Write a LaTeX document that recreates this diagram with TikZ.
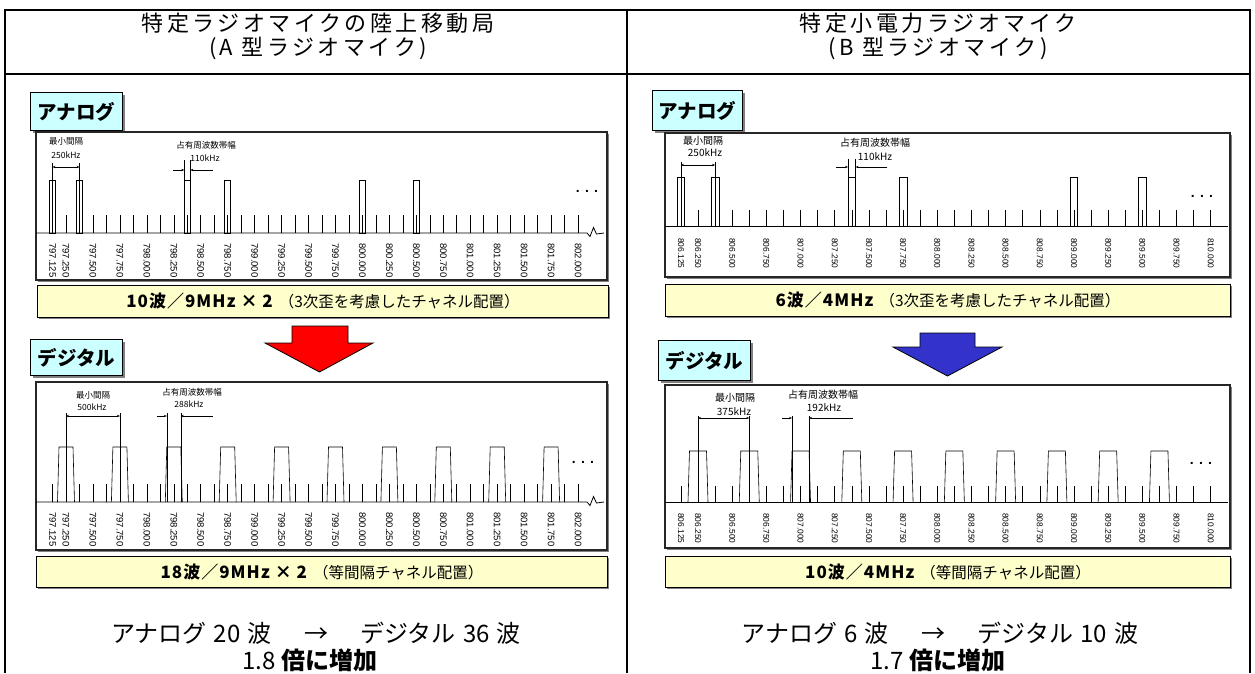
\documentclass[tikz,border=0pt]{standalone}
\usepackage{fontspec}
\setmainfont{Noto Sans CJK JP}
\newfontfamily\arl{Liberation Sans}
\usetikzlibrary{arrows.meta}
\definecolor{lyellow}{HTML}{FFFFCC}
\definecolor{lcyan}{HTML}{CCFFFF}
\definecolor{arrred}{HTML}{FF0000}
\definecolor{arrblue}{HTML}{3333CC}
\definecolor{shadowc}{HTML}{808080}
\tikzset{
  tbl/.style={line width=1.6pt},
  chartbox/.style={draw=black!85, line width=1.1pt, fill=white},
  shadowbox/.style={fill=shadowc, draw=none},
  yellowbox/.style={draw=black, line width=1pt, fill=lyellow, inner sep=0pt},
  tagbox/.style={draw=black, line width=1.2pt, fill=lcyan, inner sep=0pt, minimum width=92pt, minimum height=38pt, anchor=north west, font=\fontsize{19.5}{20}\selectfont\bfseries},
  ticks/.style={line width=0.6pt},
  chan/.style={line width=0.6pt},
  baseln/.style={line width=0.8pt},
  dimline/.style={line width=0.5pt},
  dimarrow/.style={line width=0.5pt, -{Stealth[length=3pt,width=2.4pt]}},
  dimarrows/.style={line width=0.5pt, {Stealth[length=3pt,width=2.4pt]}-{Stealth[length=3pt,width=2.4pt]}},
  freqL/.style={rotate=-90, anchor=west, inner sep=0pt, font=\arl\fontsize{9.5}{10}\selectfont},
  freqR/.style={rotate=-90, anchor=west, inner sep=0pt, font=\arl\fontsize{8.4}{9}\selectfont},
  smallL/.style={inner sep=0pt, font=\fontsize{8.5}{9}\selectfont},
  smallR/.style={inner sep=0pt, font=\fontsize{10}{11}\selectfont},
  dots/.style={inner sep=0pt, font=\arl\fontsize{14}{14}\selectfont\bfseries},
  head/.style={inner sep=0pt, font=\fontsize{22}{24}\selectfont\addfontfeatures{LetterSpace=16}},
  foot/.style={inner sep=0pt, font=\fontsize{24}{26}\selectfont},
  bigarrow/.style={draw=black, line width=0.8pt, line join=miter},
}
\newcommand{\sumtext}[2]{{\fontsize{17}{18}\selectfont\bfseries\addfontfeatures{LetterSpace=6}#1}\hspace{6pt}{\fontsize{15.5}{18}\selectfont #2}}
\newcommand{\gap}{\hspace{0.3em}}
\newcommand{\wgap}{\hspace{1.35em}}
\begin{document}
\begin{tikzpicture}[x=1pt,y=-1pt]
\useasboundingbox (0,0) rectangle (1255,673);
\fill[white] (0,0) rectangle (1255,673);

% ---------- table ----------
\draw[tbl] (5,673) -- (5,10) -- (1250,10) -- (1250,673);
\draw[tbl] (627,10) -- (627,673);
\draw[tbl] (5,74) -- (1250,74);
\node[head] (hL1) at (318,23) {特定ラジオマイクの陸上移動局};
\node[head] (hL2) at (318,48) {(A 型ラジオマイク)};
\node[head] (hR1) at (938,23) {特定小電力ラジオマイク};
\node[head] (hR2) at (938,48) {(B 型ラジオマイク)};

% ========== LEFT ANALOG ==========
\fill[shadowbox] (33,95) rectangle (125,133);
\node[tagbox] (tagLA) at (30,92) {アナログ};
\fill[shadowbox] (38,134) rectangle (609,282);
\draw[chartbox] (36,132) rectangle (607,280);
\foreach \i in {0,...,39} {\draw[ticks] ({52.525+13.475*\i},233) -- ({52.525+13.475*\i},215);}
\foreach \i in {0,2,10,13,23,27} {\draw[chan] ({52.525+13.475*\i-3},233) rectangle ({52.525+13.475*\i+3},180);}
\draw[baseln] (36,233) -- (587,233) -- (590,236.5) -- (593.5,227.5) -- (596.5,234) -- (604,233);
\foreach \i/\t in {0/797.125,1/797.250,3/797.500,5/797.750,7/798.000,9/798.250,11/798.500,13/798.750,15/799.000,17/799.250,19/799.500,21/799.750,23/800.000,25/800.250,27/800.500,29/800.750,31/801.000,33/801.250,35/801.500,37/801.750,39/802.000}
  {\node[freqL] (fLA\i) at ({52.525+13.475*\i},243) {\t};}
\draw[dimline] (52.5,233) -- (52.5,163);
\draw[dimline] (79.5,233) -- (79.5,163);
\draw[dimarrows] (52.5,167) -- (79.5,167);
\node[smallL] (mLA) at (66,141) {最小間隔};
\node[smallL] (kLA) at (66,155) {250kHz};
\draw[dimline] (184.3,180) -- (184.3,160);
\draw[dimline] (190.3,180) -- (190.3,160);
\coordinate (bLA1) at (173,170);
\coordinate (bLA2) at (213,170);
\draw[dimarrow] (bLA1) -- (184.3,170);
\draw[dimarrow] (bLA2) -- (190.3,170);
\node[smallL] (oLA) at (206,145) {占有周波数帯幅};
\node[smallL] (wLA) at (205,158) {110kHz};
\node[dots] (dLA) at (587,191) {. . .};
\fill[shadowbox] (39,287) rectangle (610,319);
\node[yellowbox, minimum width=571pt, minimum height=32pt, anchor=north west] (sLA) at (37,285) {\sumtext{10波／9MHz × 2}{（3次歪を考慮したチャネル配置）}};

% ========== LEFT DIGITAL ==========
\fill[shadowbox] (33,342) rectangle (125,378);
\node[tagbox, minimum height=36pt] (tagLD) at (30,339) {デジタル};
\fill[shadowbox] (38,384) rectangle (609,552);
\draw[chartbox] (36,382) rectangle (607,550);
\foreach \i in {0,...,39} {\draw[ticks] ({52.525+13.475*\i},502) -- ({52.525+13.475*\i},484);}
\foreach \k in {0,...,9} {\pgfmathsetmacro\cx{52.525+13.475*(1+4*\k)}
  \draw[chan] ({\cx-8.5},502) -- ({\cx-7},447) -- ({\cx+7},447) -- ({\cx+8.5},502);}
\draw[baseln] (36,502) -- (587,502) -- (590,505.5) -- (593.5,496.5) -- (596.5,503) -- (604,502);
\foreach \i/\t in {0/797.125,1/797.250,3/797.500,5/797.750,7/798.000,9/798.250,11/798.500,13/798.750,15/799.000,17/799.250,19/799.500,21/799.750,23/800.000,25/800.250,27/800.500,29/800.750,31/801.000,33/801.250,35/801.500,37/801.750,39/802.000}
  {\node[freqL] (fLD\i) at ({52.525+13.475*\i},512) {\t};}
\draw[dimline] (66,502) -- (66,413);
\draw[dimline] (119.9,502) -- (119.9,413);
\draw[dimarrows] (66,416) -- (119.9,416);
\node[smallL] (mLD) at (93,395) {最小間隔};
\node[smallL] (kLD) at (92,407) {500kHz};
\draw[dimline] (166.8,502) -- (166.8,413);
\draw[dimline] (180.8,502) -- (180.8,413);
\coordinate (bLD1) at (157,416);
\coordinate (bLD2) at (213,416);
\draw[dimarrow] (bLD1) -- (166.8,416);
\draw[dimarrow] (bLD2) -- (180.8,416);
\node[smallL] (oLD) at (192,392) {占有周波数帯幅};
\node[smallL] (wLD) at (189,404) {288kHz};
\node[dots] (dLD) at (583,462) {. . .};
\fill[shadowbox] (38,558) rectangle (609,589);
\node[yellowbox, minimum width=571pt, minimum height=31pt, anchor=north west] (sLD) at (36,556) {\sumtext{18波／9MHz × 2}{（等間隔チャネル配置）}};

% big red arrow
\draw[bigarrow, fill=arrred] (292,326) -- (348,326) -- (348,343) -- (373,343) -- (319.5,372) -- (265,343) -- (292,343) -- cycle;

% ========== RIGHT ANALOG ==========
\fill[shadowbox] (655,93) rectangle (745,133);
\node[tagbox, minimum width=90pt, minimum height=40pt] (tagRA) at (652,90) {アナログ};
\fill[shadowbox] (667,135) rectangle (1232,279);
\draw[chartbox] (665,133) rectangle (1230,277);
\foreach \i in {0,...,31} {\draw[ticks] ({680.91+17.09*\i},226) -- ({680.91+17.09*\i},210);}
\foreach \i in {0,2,10,13,23,27} {\draw[chan] ({680.91+17.09*\i-3.8},226) rectangle ({680.91+17.09*\i+3.8},177);}
\draw[baseln] (665,226) -- (1228,226);
\foreach \i/\t in {0/806.125,1/806.250,3/806.500,5/806.750,7/807.000,9/807.250,11/807.500,13/807.750,15/808.000,17/808.250,19/808.500,21/808.750,23/809.000,25/809.250,27/809.500,29/809.750,31/810.000}
  {\node[freqR] (fRA\i) at ({680.91+17.09*\i},238) {\t};}
\draw[dimline] (680.9,226) -- (680.9,162);
\draw[dimline] (715.1,226) -- (715.1,162);
\draw[dimarrows] (680.9,165) -- (715.1,165);
\node[smallR] (mRA) at (703,141) {最小間隔};
\node[smallR] (kRA) at (705,153) {250kHz};
\draw[dimline] (848,177) -- (848,159);
\draw[dimline] (855.6,177) -- (855.6,159);
\coordinate (bRA1) at (836,167);
\coordinate (bRA2) at (887,167);
\draw[dimarrow] (bRA1) -- (848,167);
\draw[dimarrow] (bRA2) -- (855.6,167);
\node[smallR] (oRA) at (875,143) {占有周波数帯幅};
\node[smallR] (wRA) at (875,157) {110kHz};
\node[dots] (dRA) at (1202,196) {. . .};
\fill[shadowbox] (667,286) rectangle (1232,318);
\node[yellowbox, minimum width=565pt, minimum height=32pt, anchor=north west] (sRA) at (665,284) {\sumtext{6波／4MHz}{（3次歪を考慮したチャネル配置）}};

% ========== RIGHT DIGITAL ==========
\fill[shadowbox] (661,343) rectangle (753,383);
\node[tagbox, minimum height=40pt] (tagRD) at (658,340) {デジタル};
\fill[shadowbox] (667,387) rectangle (1232,550);
\draw[chartbox] (665,385) rectangle (1230,548);
\foreach \i in {0,...,31} {\draw[ticks] ({680.91+17.09*\i},502) -- ({680.91+17.09*\i},486);}
\foreach \k in {0,...,9} {\pgfmathsetmacro\cx{680.91+17.09*(1+3*\k)}
  \draw[chan] ({\cx-10},502) -- ({\cx-8.5},451) -- ({\cx+8.5},451) -- ({\cx+10},502);}
\draw[baseln] (665,502) -- (1228,502);
\foreach \i/\t in {0/806.125,1/806.250,3/806.500,5/806.750,7/807.000,9/807.250,11/807.500,13/807.750,15/808.000,17/808.250,19/808.500,21/808.750,23/809.000,25/809.250,27/809.500,29/809.750,31/810.000}
  {\node[freqR] (fRD\i) at ({680.91+17.09*\i},513) {\t};}
\draw[dimline] (698,502) -- (698,416);
\draw[dimline] (749.3,502) -- (749.3,416);
\draw[dimarrows] (698,418) -- (749.3,418);
\node[smallR] (mRD) at (735,398) {最小間隔};
\node[smallR] (kRD) at (734,412) {375kHz};
\draw[dimline] (792,502) -- (792,416);
\draw[dimline] (809,502) -- (809,416);
\coordinate (bRD1) at (782,418);
\coordinate (bRD2) at (853,418);
\draw[dimarrow] (bRD1) -- (792,418);
\draw[dimarrow] (bRD2) -- (809,418);
\node[smallR] (oRD) at (823,395) {占有周波数帯幅};
\node[smallR] (wRD) at (824,408) {192kHz};
\node[dots] (dRD) at (1201,463) {. . .};
\fill[shadowbox] (667,558) rectangle (1232,589);
\node[yellowbox, minimum width=565pt, minimum height=31pt, anchor=north west] (sRD) at (665,556) {\sumtext{10波／4MHz}{（等間隔チャネル配置）}};

% big blue arrow
\draw[bigarrow, fill=arrblue] (920,333) -- (975,333) -- (975,347) -- (1002,347) -- (947.5,376) -- (893,347) -- (920,347) -- cycle;

% ---------- bottom texts ----------
\node[foot] (fL1) at (316,633) {アナログ\gap 20\gap 波\wgap →\wgap デジタル\gap 36\gap 波};
\node[foot] (fL2) at (310,660) {1.8 {\bfseries 倍に増加}};
\node[foot] (fR1) at (940,633) {アナログ\gap 6\gap 波\wgap →\wgap デジタル\gap 10\gap 波};
\node[foot] (fR2) at (938,660) {1.7 {\bfseries 倍に増加}};
\end{tikzpicture}
\end{document}
